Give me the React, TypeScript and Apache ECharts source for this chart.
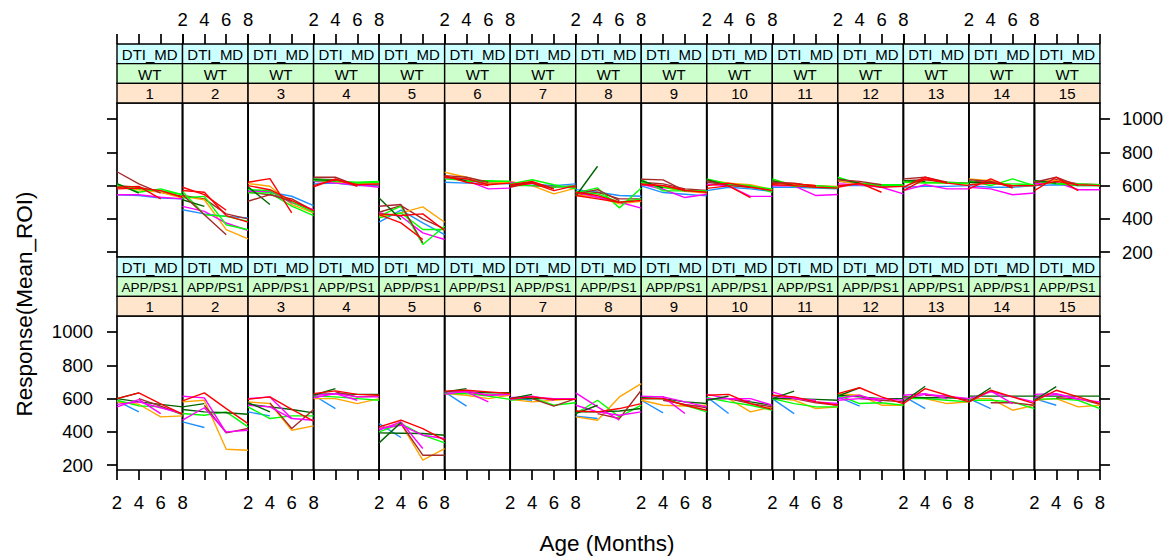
import React, { useEffect, useRef } from 'react';
import * as echarts from 'echarts';

const AGES = [2, 4, 6, 8];
const PANELS = ['1', '2', '3', '4', '5', '6', '7', '8', '9', '10', '11', '12', '13', '14', '15'];
const GROUPS = ['WT', 'APP/PS1'];
const MEASURE = 'DTI_MD';
const Y_TICKS = [200, 400, 600, 800, 1000];
const X_TITLE = 'Age (Months)';
const Y_TITLE = 'Response(Mean_ROI)';

// ---- WT subjects (one row per panel 1..15) ----
const WT_BLUE = [[545, 540, 525, 520], [455, 430, 415, 405], [576, 560, 536, 480], [610, 615, 600, 600], [380, 452, 376, 306], [620, 615, 615, 610], [610, 610, 600, 610], [576, 560, 540, 536], [598, 558, 548, 538], [570, 590, 580, 565], [590, 590, 585, 580], [600, 600, 595, 595], [590, 595, 595, 600], [600, 590, 590, 600], [600, 605, 600, 600]];
const WT_RED = [[580, 585, 570, 530], [570, 560, 420, 380], [600, 575, 510, 450], [600, 635, 605, 610], [430, 420, 430, 330], [650, 640, 605, 615], [595, 615, 570, 600], [540, 520, 500, 510], [605, 600, 570, 560], [600, 615, 590, 570], [605, 600, 590, 585], [600, 610, 590, 595], [570, 640, 615, 600], [605, 615, 600, 600], [600, 625, 605, 600]];
const WT_RED_B = [[590, 595, 520], [590, 546, 452], [620, 642, 436], [592, 640, 595], [426, 376, 276], [660, 620, 600], [605, 625, 580], [560, 540, 500], [610, 600, 575], [583, 598, 528], [610, 610, 600], [590, 615, 560], [590, 650, 615], [580, 640, 585], [570, 650, 570]];
const WT_GREEN = [[610, 560, 580, 545], [565, 425, 415, 385], [556, 556, 476, 420], [630, 625, 620, 625], [416, 476, 246, 356], [640, 630, 630, 625], [610, 635, 605, 580], [556, 586, 466, 586], [638, 568, 568, 568], [640, 610, 600, 560], [640, 600, 590, 585], [650, 610, 600, 600], [620, 615, 620, 610], [630, 600, 640, 600], [630, 610, 600, 600]];
const WT_GREEN_B = [[600, 580, 570, 545], [525, 535, 365, 335], [576, 570, 500, 440], [640, 630, 615, 620], [406, 436, 336, 336], [655, 625, 625, 625], [600, 600, 590, 600], [565, 550, 500, 520], [620, 590, 570, 565], [630, 605, 595, 580], [625, 595, 600, 590], [640, 615, 605, 605], [630, 620, 615, 615], [620, 610, 610, 605], [625, 615, 610, 605]];
const WT_DKGREEN = [[612, 555], [515, 475], [592, 486], [636, 630], [526, 396], [655, 630], [600, 620], [536, 716], [630, 585], [635, 600], [630, 600], [640, 615], [630, 625], [620, 615], [630, 615]];
const WT_BROWN = [[683, 610, 555], [545, 425, 305], [506, 546, 506], [650, 650, 600], [476, 486, 256], [660, 650, 620], [590, 620, 580], [550, 575, 510], [638, 634, 568], [630, 600, 590], [620, 615, 595], [635, 625, 605], [640, 650, 620], [635, 625, 590], [620, 650, 600]];
const WT_BROWN_B = [[600, 590, 560, 535], [540, 520, 430, 400], [560, 545, 520, 450], [640, 635, 610, 605], [440, 480, 400, 340], [650, 640, 615, 615], [605, 600, 595, 590], [540, 560, 520, 520], [620, 610, 580, 570], [620, 605, 590, 575], [615, 610, 600, 590], [625, 615, 600, 600], [630, 635, 620, 615], [625, 620, 600, 600], [615, 635, 610, 605]];
const WT_ORANGE = [[590, 575, 560, 525], [535, 515, 335, 280], [612, 596, 486, 436], [630, 620, 610, 610], [416, 436, 472, 380], [680, 650, 615, 620], [625, 600, 550, 585], [545, 530, 490, 505], [620, 590, 565, 555], [635, 615, 605, 575], [630, 610, 600, 595], [630, 605, 600, 600], [625, 620, 615, 610], [640, 630, 600, 600], [625, 630, 605, 600]];
const WT_MAGENTA = [[545, 545, 530, 520], [475, 445, 375, 330], [566, 566, 496, 456], [625, 615, 605, 590], [436, 416, 316, 276], [645, 630, 580, 585], [620, 600, 590, 600], [560, 530, 500, 465], [608, 578, 528, 548], [608, 598, 535, 535], [598, 598, 540, 546], [610, 605, 590, 550], [570, 605, 580, 580], [590, 580, 545, 555], [610, 620, 575, 575]];

// ---- APP/PS1 subjects ----
const APP_BLUE = [[586, 520], [460, 426], [520, 496], [620, 540], [450, 366], [640, 555], [605, 590], [494, 480], [590, 514], [610, 510], [600, 510], [610, 555], [615, 540], [600, 540], [600, 560]];
const APP_RED = [[600, 634, 568, 506], [586, 634, 540, 450], [596, 610, 535, 464], [630, 646, 625, 620], [430, 470, 420, 350], [645, 650, 640, 630], [600, 610, 595, 595], [525, 520, 540, 570], [600, 600, 560, 530], [620, 625, 570, 535], [620, 610, 580, 560], [630, 665, 610, 570], [570, 660, 620, 580], [580, 650, 610, 570], [585, 650, 610, 570]];
const APP_GREEN = [[590, 556, 550, 504], [510, 500, 520, 430], [550, 480, 496, 496], [615, 610, 600, 590], [400, 450, 380, 334], [630, 630, 615, 595], [590, 605, 560, 575], [510, 590, 490, 560], [600, 600, 560, 520], [605, 580, 560, 530], [600, 570, 550, 550], [620, 570, 575, 560], [600, 600, 590, 580], [590, 590, 580, 540], [595, 600, 590, 540]];
const APP_DKGREEN = [[600, 634], [550, 570], [576, 520], [620, 660], [334, 456], [640, 660], [600, 625], [510, 560], [605, 600], [590, 615], [600, 645], [615, 665], [580, 674], [580, 665], [590, 672]];
const APP_DKGREEN_B = [[600, 580, 565, 550], [534, 520, 515, 506], [566, 550, 534, 514], [625, 630, 625, 625], [394, 392, 390, 380], [640, 640, 635, 635], [600, 600, 600, 600], [520, 520, 525, 540], [600, 600, 580, 570], [600, 600, 580, 560], [600, 600, 595, 590], [620, 610, 600, 600], [610, 605, 605, 600], [615, 615, 615, 615], [615, 615, 615, 615]];
const APP_BROWN = [[600, 555, 506], [560, 394, 420], [574, 420, 534], [640, 610, 615], [450, 260, 260], [640, 620, 625], [600, 555, 600], [510, 480, 650], [590, 565, 545], [600, 570, 550], [600, 575, 560], [600, 590, 580], [620, 615, 590], [575, 575, 560], [605, 600, 565]];
const APP_ORANGE = [[580, 566, 490, 496], [580, 590, 296, 290], [580, 570, 410, 436], [600, 600, 570, 600], [420, 450, 230, 300], [630, 620, 600, 620], [595, 580, 590, 600], [490, 470, 610, 690], [590, 560, 555, 560], [600, 600, 520, 550], [605, 590, 540, 550], [630, 620, 560, 560], [610, 600, 570, 580], [600, 600, 530, 560], [590, 600, 550, 560]];
const APP_MAGENTA = [[550, 594, 510], [614, 604, 394], [600, 610, 480], [605, 630, 590], [410, 460, 300], [640, 640, 580], [605, 615, 590], [634, 550, 470], [610, 610, 510], [625, 600, 586], [640, 600, 590], [600, 620, 580], [620, 630, 600], [580, 646, 570], [625, 630, 600]];
const APP_MAGENTA_B = [[565, 580, 545, 510], [470, 545, 400, 410], [560, 550, 480, 470], [620, 630, 610, 610], [420, 440, 380, 360], [625, 645, 620, 625], [595, 610, 600, 600], [560, 520, 500, 520], [615, 610, 580, 550], [600, 600, 600, 560], [610, 605, 580, 570], [590, 600, 600, 590], [600, 625, 615, 600], [600, 640, 610, 580], [605, 625, 595, 580]];

const COL = {
  blue: '#1E90FF', red: '#FF0000', green: '#00FF00', dkgreen: '#006400',
  brown: '#A52A2A', orange: '#FFA500', magenta: '#FF00FF',
};

const SUBJECTS = [
  [
    { vals: WT_BLUE, ages: [2, 4, 6, 8], color: COL.blue },
    { vals: WT_BROWN_B, ages: [2, 4, 6, 8], color: COL.brown },
    { vals: WT_ORANGE, ages: [2, 4, 6, 8], color: COL.orange },
    { vals: WT_MAGENTA, ages: [2, 4, 6, 8], color: COL.magenta },
    { vals: WT_GREEN_B, ages: [2, 4, 6, 8], color: COL.green },
    { vals: WT_GREEN, ages: [2, 4, 6, 8], color: COL.green },
    { vals: WT_DKGREEN, ages: [2, 4], color: COL.dkgreen },
    { vals: WT_BROWN, ages: [2, 4, 6], color: COL.brown },
    { vals: WT_RED, ages: [2, 4, 6, 8], color: COL.red },
    { vals: WT_RED_B, ages: [2, 4, 6], color: COL.red },
  ],
  [
    { vals: APP_BLUE, ages: [2, 4], color: COL.blue },
    { vals: APP_ORANGE, ages: [2, 4, 6, 8], color: COL.orange },
    { vals: APP_GREEN, ages: [2, 4, 6, 8], color: COL.green },
    { vals: APP_DKGREEN_B, ages: [2, 4, 6, 8], color: COL.dkgreen },
    { vals: APP_BROWN, ages: [4, 6, 8], color: COL.brown },
    { vals: APP_MAGENTA_B, ages: [2, 4, 6, 8], color: COL.magenta },
    { vals: APP_MAGENTA, ages: [2, 4, 6], color: COL.magenta },
    { vals: APP_DKGREEN, ages: [2, 4], color: COL.dkgreen },
    { vals: APP_RED, ages: [2, 4, 6, 8], color: COL.red },
  ],
];

const FONT = "'Liberation Sans', Arial, Helvetica, sans-serif";
const STRIP_FILL = ['#CCFFFF', '#CCFFCC', '#FFE5CC'];

export default function App() {
  const ref = useRef<HTMLDivElement>(null);
  useEffect(() => {
    document.body.style.margin = '0';
    if (!ref.current) return;
    const chart = echarts.init(ref.current, null, { renderer: 'svg' });

    const X0 = 117;
    const PW = 65.53;
    const ROW_TOP = [103, 316];
    const PH = 154;
    const SH = 59 / 3;
    const BW = 1.7;

    const grids: any[] = [];
    const xAxes: any[] = [];
    const yAxes: any[] = [];
    const series: any[] = [];
    const rects: any[] = [];
    const labels: any[] = [];

    for (let r = 0; r < 2; r++) {
      for (let c = 0; c < PANELS.length; c++) {
        const idx = r * PANELS.length + c;
        const left = X0 + c * PW;
        grids.push({
          left, top: ROW_TOP[r], width: PW, height: PH,
          show: true, borderColor: '#000', borderWidth: BW, backgroundColor: 'transparent',
        });
        xAxes.push({
          gridIndex: idx, type: 'value', min: 2, max: 8, interval: 2,
          position: r === 0 ? 'top' : 'bottom', offset: r === 0 ? 59 : 0,
          axisLine: { show: false },
          axisTick: { show: true, inside: false, length: 10, lineStyle: { color: '#000', width: BW } },
          axisLabel: {
            show: r === 0 ? c % 2 === 1 : c % 2 === 0,
            fontSize: 18.5, color: '#000', fontFamily: FONT,
            margin: r === 0 ? 15 : 23, showMinLabel: true, showMaxLabel: true, hideOverlap: false,
            formatter: (v: number) => String(v),
          },
          splitLine: { show: false },
        });
        const edge = c === 0 || c === PANELS.length - 1;
        yAxes.push({
          gridIndex: idx, type: 'value', min: 171, max: 1096,
          show: edge, position: c === 0 ? 'left' : 'right',
          axisLine: { show: false },
          axisTick: { show: true, inside: false, length: 10, customValues: Y_TICKS, lineStyle: { color: '#000', width: BW } },
          axisLabel: {
            show: c === 0 ? r === 1 : r === 0, customValues: Y_TICKS,
            fontSize: 18.5, color: '#000', fontFamily: FONT, margin: c === 0 ? 24 : 22,
            formatter: (v: number) => String(v),
          },
          splitLine: { show: false },
        });

        // strips
        const stripTop = ROW_TOP[r] - 3 * SH;
        const texts = [MEASURE, GROUPS[r], PANELS[c]];
        for (let s = 0; s < 3; s++) {
          const y = stripTop + s * SH;
          rects.push({
            type: 'rect', z: 10,
            shape: { x: left, y, width: PW, height: SH },
            style: { fill: STRIP_FILL[s], stroke: '#000', lineWidth: 1.4 },
          });
          const fs = s === 1 && r === 1 ? 13.6 : 15;
          labels.push({
            type: 'text', z: 11,
            x: left + PW / 2, y: y + SH / 2 + 0.6,
            style: {
              text: texts[s], fill: '#000', font: `${fs}px ${FONT}`,
              align: 'center', verticalAlign: 'middle', textAlign: 'center', textVerticalAlign: 'middle',
            },
          });
        }

        // series
        SUBJECTS[r].forEach((sub, k) => {
          const vals = sub.vals[c];
          const data = sub.ages.map((a, i) => [a, vals[i]]);
          series.push({
            type: 'line', name: `${GROUPS[r]}-${PANELS[c]}-${k}`,
            xAxisIndex: idx, yAxisIndex: idx, data,
            symbol: 'none', silent: true,
            lineStyle: { color: sub.color, width: 1.4 },
          });
        });
      }
    }

    labels.push({
      type: 'text', x: 24, y: 304, rotation: Math.PI / 2,
      style: {
        text: Y_TITLE, fill: '#000', font: `22.5px ${FONT}`,
        align: 'center', verticalAlign: 'middle', textAlign: 'center', textVerticalAlign: 'middle',
      },
    });
    labels.push({
      type: 'text', x: 607, y: 543,
      style: {
        text: X_TITLE, fill: '#000', font: `22.5px ${FONT}`,
        align: 'center', verticalAlign: 'middle', textAlign: 'center', textVerticalAlign: 'middle',
      },
    });

    chart.setOption({
      animation: false,
      backgroundColor: '#fff',
      textStyle: { fontFamily: FONT },
      grid: grids,
      xAxis: xAxes,
      yAxis: yAxes,
      series,
      graphic: [...rects, ...labels],
    });
    return () => chart.dispose();
  }, []);
  return <div ref={ref} style={{ position: 'fixed', left: 0, top: 0, width: 1172, height: 558 }} />;
}
